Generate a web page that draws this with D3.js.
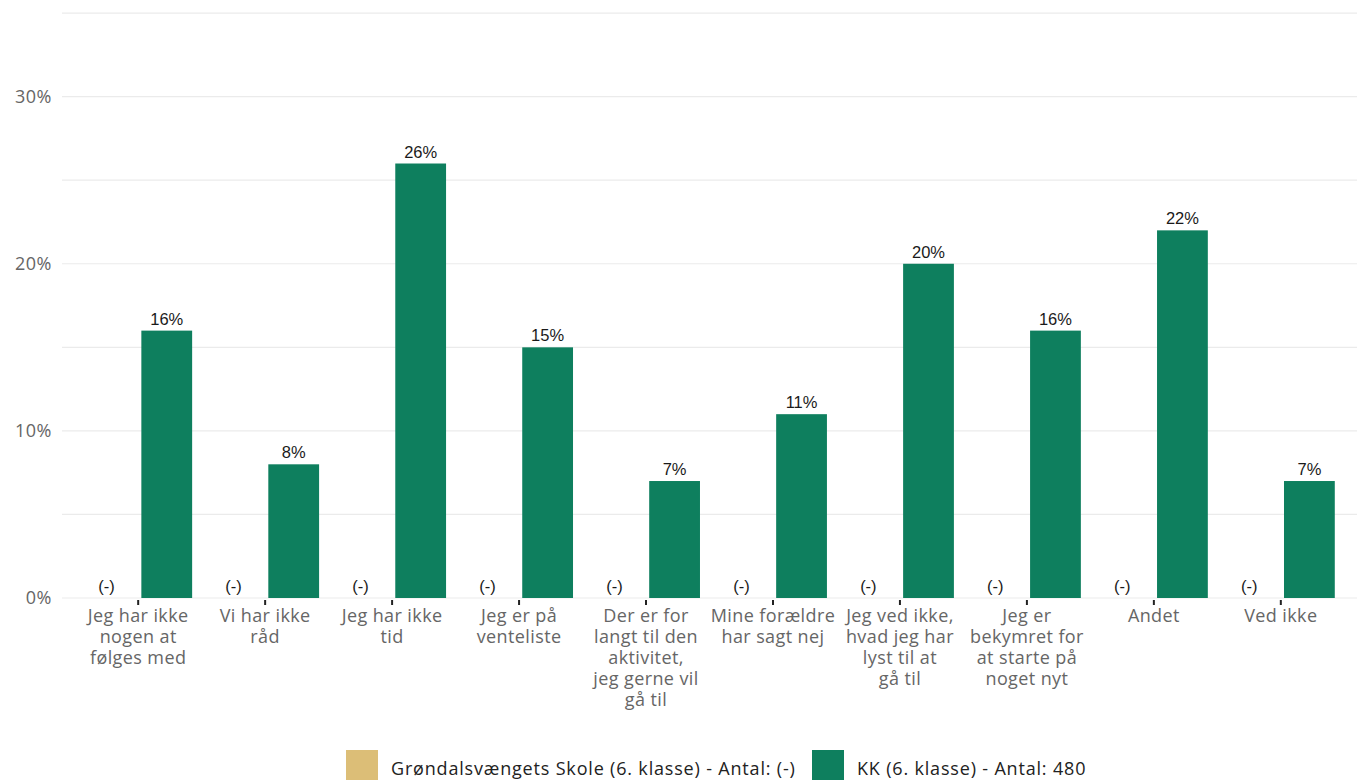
<!DOCTYPE html>
<html><head><meta charset="utf-8">
<script src="https://cdn.jsdelivr.net/npm/d3@7"></script>
<style>body{margin:0;background:#fff}svg{display:block}</style>
</head><body>
<svg id="c" width="1360" height="780"></svg>
<script>
const categories = [
  "Jeg har ikke\nnogen at\nfølges med",
  "Vi har ikke\nråd",
  "Jeg har ikke\ntid",
  "Jeg er på\nventeliste",
  "Der er for\nlangt til den\naktivitet,\njeg gerne vil\ngå til",
  "Mine forældre\nhar sagt nej",
  "Jeg ved ikke,\nhvad jeg har\nlyst til at\ngå til",
  "Jeg er\nbekymret for\nat starte på\nnoget nyt",
  "Andet",
  "Ved ikke"
];
const seriesNames = ["Grøndalsvængets Skole (6. klasse) - Antal: (-)", "KK (6. klasse) - Antal: 480"];
const schoolValues = [null,null,null,null,null,null,null,null,null,null];
const kkValues = [0.16,0.08,0.26,0.15,0.07,0.11,0.20,0.16,0.22,0.07];
const yTicks = [0,0.1,0.2,0.3];
const yMinor = [0.05,0.15,0.25,0.35];
const colors = ["#dcbe77","#0e7f5e"];

(function(){
const svg = d3.select("#c");
const pl = 62, pr = 1357, pb = 598;
const FONT = "'Open Sans', sans-serif";
const x = d3.scalePoint().domain(d3.range(categories.length)).range([pl,pr]).padding(0.6);
const step = x.step();
const y = d3.scaleLinear().domain([0,0.35]).range([pb, 13.1]);

svg.append("g").selectAll("line").data(yMinor.concat(yTicks)).join("line")
  .attr("x1",pl).attr("x2",pr).attr("y1",d=>y(d)).attr("y2",d=>y(d))
  .attr("stroke","#ebebeb").attr("stroke-width",1.2);

svg.append("g").selectAll("text").data(yTicks).join("text")
  .attr("x",52).attr("y",d=>y(d)).attr("dy","0.36em").attr("text-anchor","end")
  .attr("font-family",FONT).attr("font-size",18).attr("letter-spacing",0.5).attr("fill","#666")
  .text(d=>d3.format(".0%")(d));

const off = 0.225*step, bw = 0.4*step;
const g = svg.append("g");
g.selectAll("rect.kk").data(kkValues).join("rect").attr("class","kk")
  .attr("x",(d,i)=>x(i)+off-bw/2).attr("width",bw)
  .attr("y",d=>y(d)).attr("height",d=>y(0)-y(d)).attr("fill",colors[1]);
g.selectAll("rect.sc").data(schoolValues).join("rect").attr("class","sc")
  .attr("x",(d,i)=>x(i)-off-bw/2).attr("width",bw)
  .attr("y",d=>y(d||0)).attr("height",d=>y(0)-y(d||0)).attr("fill",colors[0]);
g.selectAll("text.kk").data(kkValues).join("text").attr("class","kk")
  .attr("x",(d,i)=>x(i)+off).attr("y",d=>y(d)-6).attr("text-anchor","middle")
  .attr("font-family","'Liberation Sans', Arial, sans-serif").attr("font-size",16.5).attr("fill","#1a1a1a")
  .text(d=>d3.format(".0%")(d));
g.selectAll("text.sc").data(schoolValues).join("text").attr("class","sc")
  .attr("x",(d,i)=>x(i)-off-3).attr("y",y(0)-6).attr("text-anchor","middle")
  .attr("font-family","'Liberation Sans', Arial, sans-serif").attr("font-size",16.5).attr("fill","#1a1a1a")
  .text(d=>d==null?"(-)":d3.format(".0%")(d));

svg.append("g").selectAll("line").data(categories).join("line")
  .attr("x1",(d,i)=>x(i)).attr("x2",(d,i)=>x(i)).attr("y1",pb+2).attr("y2",pb+7)
  .attr("stroke","#222").attr("stroke-width",2);
const xl = svg.append("g").selectAll("g").data(categories).join("g");
xl.each(function(d,i){
  const t=d3.select(this);
  d.split("\n").forEach((line,k)=>{
    t.append("text").attr("x",x(i)).attr("y",pb+24+k*21).attr("text-anchor","middle")
      .attr("font-family",FONT).attr("font-size",18).attr("letter-spacing",0.4).attr("fill","#666")
      .text(line);
  });
});

const leg = svg.append("g");
const legX = [346, 812];
seriesNames.forEach((n,i)=>{
  leg.append("rect").attr("x",legX[i]).attr("y",750).attr("width",32).attr("height",32).attr("fill",colors[i]);
  leg.append("text").attr("x",legX[i]+45).attr("y",769).attr("dy","0.35em")
    .attr("font-family",FONT).attr("font-size",18).attr("letter-spacing",0.82).attr("fill","#222").text(n);
});
})();
</script>
</body></html>
